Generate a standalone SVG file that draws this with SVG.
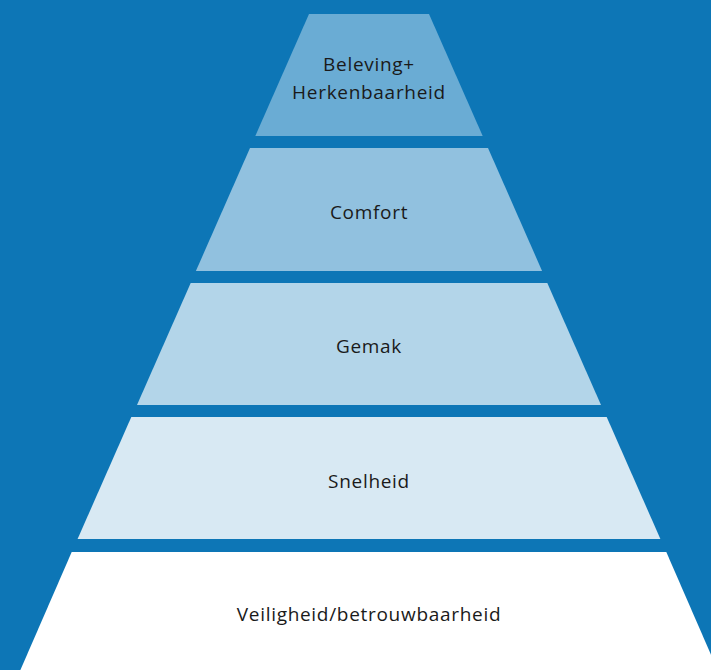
<svg xmlns="http://www.w3.org/2000/svg" width="711" height="670" viewBox="0 0 711 670">
<style>
.t{font-family:"Open Sans","Noto Sans","Liberation Sans",sans-serif;font-size:19px;letter-spacing:0.7px;fill:#1a1a1a;text-anchor:middle}
</style>
<rect x="0" y="0" width="711" height="670" fill="#0D76B6"/>
<g id="layer1">
<polygon points="309,14 429,14 482.7,136 255.3,136" fill="#6AACD4"/>
<text class="t" x="369" y="71">Beleving+</text>
<text class="t" x="369" y="99">Herkenbaarheid</text>
</g>
<g id="layer2">
<polygon points="250.0,148 488.0,148 542.1,271 195.9,271" fill="#91C1DF"/>
<text class="t" x="369" y="219">Comfort</text>
</g>
<g id="layer3">
<polygon points="190.7,283 547.3,283 601.0,405 137.0,405" fill="#B3D5E9"/>
<text class="t" x="369" y="353">Gemak</text>
</g>
<g id="layer4">
<polygon points="131.3,417 606.7,417 660.4,539 77.6,539" fill="#D8E9F3"/>
<text class="t" x="369" y="488">Snelheid</text>
</g>
<g id="layer5">
<polygon points="71.7,552 666.3,552 717.6,670 20.4,670" fill="#FFFFFF"/>
<text class="t" x="369" y="621">Veiligheid/betrouwbaarheid</text>
</g>
<g id="connectors"/>
</svg>
